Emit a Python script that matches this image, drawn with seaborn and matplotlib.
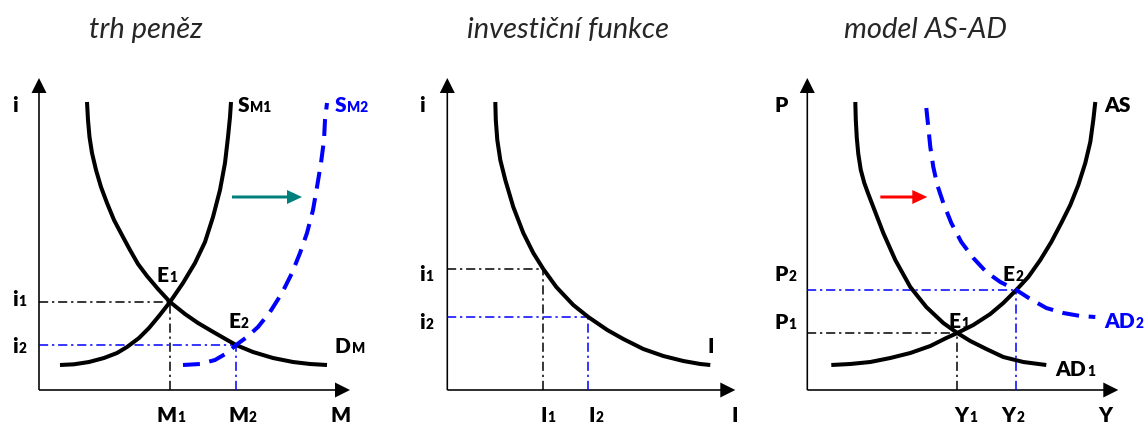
import numpy as np
import pandas as pd
import seaborn as sn
import matplotlib.pyplot as plt

# curve points, local units (1 unit = 1 px, origin = axes corner)
# panel 1 - trh penez
dm_x = [48, 49, 50.5, 53, 57, 62, 68, 75, 84, 91, 99, 108, 119, 131, 146, 159, 176, 197, 214, 234, 254, 271, 288]
dm_y = [288, 270, 253, 237, 220, 203, 187, 170, 153, 140, 126, 114, 101, 88, 76, 67, 57, 45, 38, 32, 28, 26, 25]
sm1_x = [21, 35, 50, 65, 78, 88, 100, 110, 120, 131, 144, 156, 166, 174, 181, 186, 189, 191, 192]
sm1_y = [25, 25.7, 28, 32, 37, 43, 52, 62, 74, 88, 107, 127, 148, 173, 200, 227, 253, 273, 288]
sm2_x = [144, 161, 176, 188, 197, 208, 219, 231, 243, 253, 261, 268, 274, 278, 282, 285, 286, 288]
sm2_y = [25, 26, 30, 37, 45, 53, 63, 78, 97, 117, 137, 157, 180, 203, 227, 250, 270, 287]
e1_money = (131, 88)
e2_money = (197, 45)

# panel 2 - investicni funkce
inv_x = [48, 48.5, 50, 53, 58, 66, 76, 86, 96, 109, 126, 141, 160, 176, 196, 216, 236, 253, 263]
inv_y = [288, 270, 250, 230, 210, 183, 157, 137, 121, 103, 85, 73, 60, 51, 41, 34, 29, 26, 25]
p1_inv = (96, 121)
p2_inv = (141, 73)

# panel 3 - model AS-AD
ad1_x = [48, 48.5, 49.5, 51, 53.5, 57, 61, 66, 76, 88, 103, 119, 136, 150, 163, 179, 196, 216, 239]
ad1_y = [288, 270, 252, 236, 220, 207, 196, 183, 157, 130, 103, 83, 67, 57, 49, 41, 33, 28, 25]
as_x = [24, 43, 63, 83, 103, 123, 139, 150, 166, 183, 196, 209, 221, 233, 244, 254, 263, 271, 278, 283, 286, 288]
as_y = [25, 26, 28, 32, 37, 44, 52, 57, 65, 76, 87, 100, 113, 130, 148, 167, 185, 205, 227, 248, 270, 288]
ad2_x = [119, 121, 123, 126, 130, 136, 144, 154, 166, 179, 193, 209, 223, 239, 256, 273, 288]
ad2_y = [282, 263, 243, 223, 205, 187, 167, 148, 132, 118, 108, 100, 91, 82, 77, 74, 73]
e1_asad = (150, 57)
e2_asad = (209, 100)

titles = ["trh peněz", "investiční funkce", "model AS-AD"]

BLUE = "#0000ff"
TEAL = "#00807d"
RED = "#ff0000"
DASHED = (0, (4.2, 2.4))
DASHDOT = (0, (6, 2.5, 1.5, 2.5))

sn.set_theme(style="white")
plt.rcParams["font.family"] = ["Lato", "DejaVu Sans"]

fig = plt.figure(figsize=(11.47, 4.25), dpi=100)
W, H = 1147, 425
# (left px, right px, origin x px); origin y is 390 px for all panels
panels = [(0, 382, 39), (385, 765, 447.3), (765, 1147, 807.3)]
OY = 390
axes = []
for left, right, ox in panels:
    ax = fig.add_axes([left / W, 0, (right - left) / W, 1])
    ax.set_xlim(left - ox, right - ox)
    ax.set_ylim(OY - H, OY)
    ax.axis("off")
    axes.append(ax)


def curve(ax, xs, ys, color="black", ls="-"):
    df = pd.DataFrame({"x": xs, "y": ys})
    sn.lineplot(data=df, x="x", y="y", ax=ax, color=color, lw=2.9, sort=False,
                estimator=None, linestyle=ls, solid_capstyle="butt",
                dash_capstyle="butt", solid_joinstyle="round")


def guide(ax, pt, color="black"):
    x, y = pt
    ax.plot([0, x], [y, y], color=color, lw=1.1, linestyle=DASHDOT)
    ax.plot([x, x], [0, y], color=color, lw=1.1, linestyle=DASHDOT)


def frame(ax, xtip, ytip):
    kw = dict(width=1.6, head_width=15, head_length=15, length_includes_head=True,
              color="black", lw=0)
    ax.arrow(0, 0, 0, ytip, **kw)
    ax.arrow(0, 0, xtip, 0, **kw)


def label(ax, x, y, main, sub="", color="black", size=15):
    t = ax.text(x, y, main, fontsize=size, fontweight="heavy", color=color,
                ha="left", va="baseline")
    if sub:
        ax.annotate(sub, xy=(1, 0), xycoords=t, xytext=(0.6, 0.8),
                    textcoords="offset points", fontsize=size * 0.66,
                    fontweight="heavy", color=color, ha="left", va="bottom")


def title(ax, x, text):
    ax.text(x, 352, text, fontsize=21, style="italic", ha="center", va="baseline")


# ---- panel 1
ax = axes[0]
frame(ax, 311, 312)
guide(ax, e1_money)
guide(ax, e2_money, BLUE)
curve(ax, dm_x, dm_y)
curve(ax, sm1_x, sm1_y)
curve(ax, sm2_x, sm2_y, BLUE, DASHED)
ax.arrow(193, 193, 70, 0, width=3, head_width=14, head_length=15,
         length_includes_head=True, color=TEAL, lw=0)
label(ax, -27, 278, "i")
label(ax, -27, 84, "i", "1")
label(ax, -27, 37, "i", "2")
label(ax, 117, -32, "M", "1")
label(ax, 189, -32, "M", "2")
label(ax, 291, -32, "M")
label(ax, 199, 278, "S", "M1")
label(ax, 296, 278, "S", "M2", BLUE)
label(ax, 117, 108, "E", "1")
label(ax, 189, 62, "E", "2")
label(ax, 296, 37, "D", "M")
title(ax, 107, titles[0])

# ---- panel 2
ax = axes[1]
frame(ax, 288, 312)
guide(ax, p1_inv)
guide(ax, p2_inv, BLUE)
curve(ax, inv_x, inv_y)
label(ax, -28, 278, "i")
label(ax, -28, 109, "i", "1")
label(ax, -28, 61, "i", "2")
label(ax, 260, 37, "I")
label(ax, 93, -32, "I", "1")
label(ax, 141, -32, "I", "2")
label(ax, 284, -32, "I")
title(ax, 121, titles[1])

# ---- panel 3
ax = axes[2]
frame(ax, 311, 312)
guide(ax, e1_asad)
guide(ax, e2_asad, BLUE)
curve(ax, ad1_x, ad1_y)
curve(ax, as_x, as_y)
curve(ax, ad2_x, ad2_y, BLUE, DASHED)
ax.arrow(73, 193, 47, 0, width=3, head_width=14, head_length=15,
         length_includes_head=True, color=RED, lw=0)
label(ax, -33, 278, "P")
label(ax, -33, 109, "P", "2")
label(ax, -33, 61, "P", "1")
label(ax, 297, 278, "AS")
label(ax, 297, 62, "AD", "2", BLUE)
label(ax, 248, 14, "AD", "1")
label(ax, 195, 109, "E", "2")
label(ax, 141, 62, "E", "1")
label(ax, 147, -32, "Y", "1")
label(ax, 194, -32, "Y", "2")
label(ax, 291, -32, "Y")
title(ax, 118, titles[2])

plt.savefig("out.png", dpi=100)
plt.close()
